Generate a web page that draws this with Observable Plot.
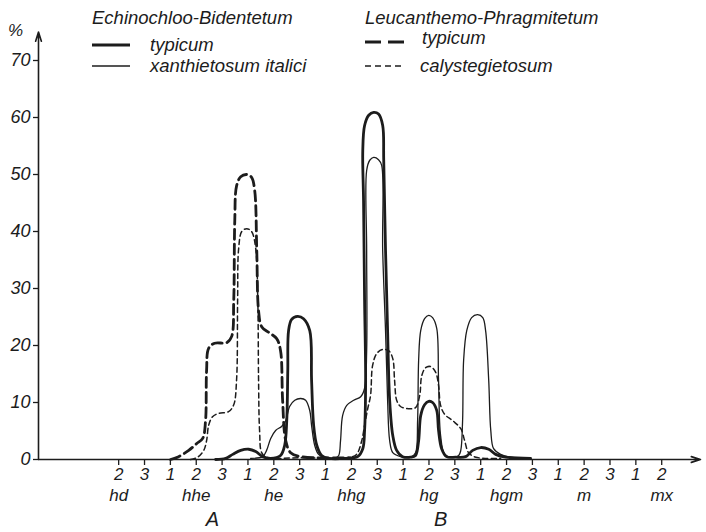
<!DOCTYPE html>
<html><head><meta charset="utf-8">
<script src="https://cdn.jsdelivr.net/npm/d3@7"></script>
<script src="https://cdn.jsdelivr.net/npm/@observablehq/plot@0.6"></script>
<style>
body{margin:0;background:#fff;}
#wrap{position:relative;width:706px;height:532px;font-family:"Liberation Sans",sans-serif;font-style:italic;color:#1c1c1c;}
#wrap svg{position:absolute;left:0;top:0;}
.lg{position:absolute;font-size:18.5px;white-space:nowrap;line-height:1;}
.sw{position:absolute;}
</style></head><body>
<div id="wrap"></div>
<script>
// ---- tick labels ----
const xTickLabels = ["2","3","1","2","3","1","2","3","1","2","3","1","2","3","1","2","3","1","2","3","1","2"];
const xTickIdx = d3.range(xTickLabels.length);
const groupLabels = ["hd","hhe","he","hhg","hg","hgm","m","mx"];
const groupIdx = [0,3,6,9,12,15,18,21];
const yTicks = [0,10,20,30,40,50,60,70];
const sectionLabels = ["A","B"];
const sectionX = [3.63, 12.45];
const xDomain = [-3.1, 22.5];
const yDomain = [0, 75];

// ---- series (x = position on the 2-3-1 scale, y = %) ----
const ebTypicum = [[3.75,0],[4.14,0.2],[4.41,0.9],[4.72,1.6],[5.03,1.8],[5.30,1.4],[5.57,0.5],[5.88,0.2],[6.26,0.7],[6.42,2.5],[6.50,6.8],[6.54,15.6],[6.57,22.6],[6.69,24.6],[6.92,25.1],[7.15,24.7],[7.39,22.6],[7.46,13.9],[7.54,6],[7.66,2.5],[7.85,0.7],[8.12,0.2],[8.78,0.2],[9.24,0.5],[9.44,1.9],[9.51,5.1],[9.55,13.9],[9.51,27.9],[9.47,45.4],[9.44,54.2],[9.51,58.6],[9.67,60.4],[9.86,60.9],[10.05,60.6],[10.21,58.6],[10.25,52.6],[10.32,36.7],[10.40,22.6],[10.48,10.4],[10.60,4.2],[10.75,1.6],[10.98,0.5],[11.29,0.4],[11.48,0.7],[11.60,3.3],[11.68,7.7],[11.83,9.6],[11.99,10.2],[12.14,10],[12.30,8.6],[12.37,5.1],[12.49,1.9],[12.68,0.5],[13.03,0.4],[13.42,0.5],[13.69,1.6],[14.00,2.1],[14.31,1.8],[14.58,0.9],[14.97,0.4],[15.93,0.2]];
const ebXanthietosum = [[5.10,0.2],[5.57,0.5],[5.72,1.6],[5.88,3.7],[6.07,5.1],[6.30,5.8],[6.46,6.8],[6.61,9.3],[6.81,10.4],[7.04,10.7],[7.23,10.4],[7.39,8.6],[7.46,6],[7.58,2.5],[7.73,0.9],[8.00,0.2],[8.39,0.3],[8.51,0.7],[8.58,3.3],[8.66,7.7],[8.82,9.5],[9.09,10.4],[9.36,11],[9.51,12.5],[9.59,19],[9.59,36.7],[9.59,50.7],[9.71,52.5],[9.86,53],[10.05,52.6],[10.17,51.6],[10.21,36.7],[10.32,22.6],[10.40,10.4],[10.48,3.3],[10.60,1.2],[10.90,0.5],[11.29,0.4],[11.48,1.2],[11.56,6.8],[11.60,17.4],[11.68,22.6],[11.83,24.7],[11.99,25.3],[12.14,24.9],[12.30,23],[12.37,13.9],[12.45,4.2],[12.61,0.9],[12.92,0.4],[13.15,0.7],[13.23,1.6],[13.30,6.8],[13.34,17.4],[13.46,22.6],[13.65,24.9],[13.88,25.4],[14.08,24.9],[14.19,22.6],[14.31,13.9],[14.39,5.1],[14.50,1.9],[14.77,0.9],[15.16,0.4],[15.93,0.2]];
const lpTypicum = [[2.01,0],[2.32,0.5],[2.71,1.6],[3.02,2.8],[3.25,3.7],[3.36,6.8],[3.40,15.6],[3.48,19.5],[3.71,20.4],[4.18,20.5],[4.37,21.6],[4.45,27.9],[4.49,41.9],[4.56,48],[4.72,49.6],[4.95,50],[5.14,49.5],[5.26,47.2],[5.34,36.7],[5.41,26.1],[5.53,23.3],[5.80,22.3],[6.11,21.2],[6.26,19.1],[6.34,10.4],[6.46,3.3],[6.65,1.2],[7.04,0.5],[8.97,0.3]];
const lpCalystegietosum = [[2.78,0],[3.05,0.4],[3.29,1.6],[3.40,3.3],[3.48,6],[3.63,7.5],[3.87,8.1],[4.25,8.4],[4.45,9.6],[4.56,14],[4.60,28],[4.64,37],[4.76,40],[4.95,40.5],[5.14,40],[5.30,37],[5.38,28],[5.41,14],[5.45,5],[5.53,1.2],[5.72,0.4],[7.0,0.3],[8.97,0.4],[9.20,0.9],[9.40,3.3],[9.51,6],[9.63,8.9],[9.74,11.2],[9.82,16.5],[9.98,18.6],[10.21,19.3],[10.44,19.1],[10.60,17.7],[10.67,13.9],[10.75,10.4],[10.90,9.3],[11.21,8.9],[11.48,9.1],[11.64,11.2],[11.72,14.7],[11.87,16.1],[12.06,16.3],[12.26,15.3],[12.37,13],[12.45,9.5],[12.61,7.9],[12.92,6.8],[13.23,5.4],[13.38,3.3],[13.53,1.2],[13.81,0.4],[14.77,0.2]];

const ink = "#1c1c1c";
const series = [
  {name:"E-B typicum", pts: ebTypicum, w: 2.8, dash: null},
  {name:"E-B xanthietosum italici", pts: ebXanthietosum, w: 1.3, dash: null},
  {name:"L-P typicum", pts: lpTypicum, w: 2.8, dash: "10,5"},
  {name:"L-P calystegietosum", pts: lpCalystegietosum, w: 1.5, dash: "5,3.5"}
];
const lineMarks = series.map(s => Plot.line(s.pts.map(([x,y]) => ({x,y})), {
  x:"x", y:"y", stroke: ink, strokeWidth: s.w, strokeDasharray: s.dash, curve:"catmull-rom", strokeLinejoin:"round", strokeLinecap:"round"
}));

const chart = Plot.plot({
  width:706, height:532, marginLeft:38, marginRight:6, marginTop:31.5, marginBottom:73,
  x:{domain:xDomain, axis:null},
  y:{domain:yDomain, axis:null},
  style:{fontFamily:"'Liberation Sans', sans-serif", fontStyle:"italic", color:ink, background:"transparent", overflow:"visible"},
  marks:[
    Plot.arrow([{x1:xDomain[0], y1:yDomain[0], x2:xDomain[0], y2:yDomain[1]}], {x1:"x1",y1:"y1",x2:"x2",y2:"y2", stroke:ink, strokeWidth:1.6, headLength:9, headAngle:35}),
    Plot.arrow([{x1:xDomain[0], y1:yDomain[0], x2:xDomain[1], y2:yDomain[0]}], {x1:"x1",y1:"y1",x2:"x2",y2:"y2", stroke:ink, strokeWidth:1.6, headLength:9, headAngle:35}),
    Plot.axisY(yTicks, {anchor:"left", tickSize:5, tickPadding:3, fontSize:18, stroke:ink, strokeWidth:1.3, fill:ink}),
    Plot.axisX(xTickIdx, {anchor:"bottom", tickSize:6, tickPadding:2, fontSize:17, tickFormat: i => xTickLabels[i], stroke:ink, strokeWidth:1.3, fill:ink}),
    Plot.axisX(groupIdx, {anchor:"bottom", tickSize:0, tickPadding:29, fontSize:17, tickFormat: d => groupLabels[groupIdx.indexOf(d)], fill:ink}),
    Plot.text(sectionLabels, {x:(d,i)=>sectionX[i], y:()=>0, text:d=>d, dy:60, fontSize:20, fill:ink}),
    ...lineMarks
  ]
});
const wrap = document.getElementById("wrap");
wrap.appendChild(chart);

// ---- legend ----
function txt(s, left, top, size){
  const d = document.createElement("div"); d.className="lg"; d.textContent=s;
  d.style.left=left+"px"; d.style.top=top+"px"; if(size) d.style.fontSize=size+"px";
  wrap.appendChild(d);
}
function sw(left, top, w, sw, dash){
  const ns="http://www.w3.org/2000/svg";
  const s=document.createElementNS(ns,"svg"); s.setAttribute("width",w); s.setAttribute("height",8);
  s.setAttribute("class","sw"); s.style.left=left+"px"; s.style.top=(top-4)+"px";
  const l=document.createElementNS(ns,"line"); l.setAttribute("x1",0); l.setAttribute("x2",w);
  l.setAttribute("y1",4); l.setAttribute("y2",4); l.setAttribute("stroke",ink); l.setAttribute("stroke-width",sw);
  if(dash) l.setAttribute("stroke-dasharray",dash);
  s.appendChild(l); wrap.appendChild(s);
}
txt("%", 8, 22, 17);
txt("Echinochloo-Bidentetum", 92, 9);
txt("Leucanthemo-Phragmitetum", 365, 9);
sw(92, 45, 38, 2.8, null); txt("typicum", 150, 36);
sw(92, 66, 38, 1.3, null); txt("xanthietosum italici", 150, 57);
sw(365, 42, 40, 2.8, "16,7"); txt("typicum", 422, 29);
sw(365, 66, 36, 1.5, "6,4"); txt("calystegietosum", 420, 57);
</script>
</body></html>
